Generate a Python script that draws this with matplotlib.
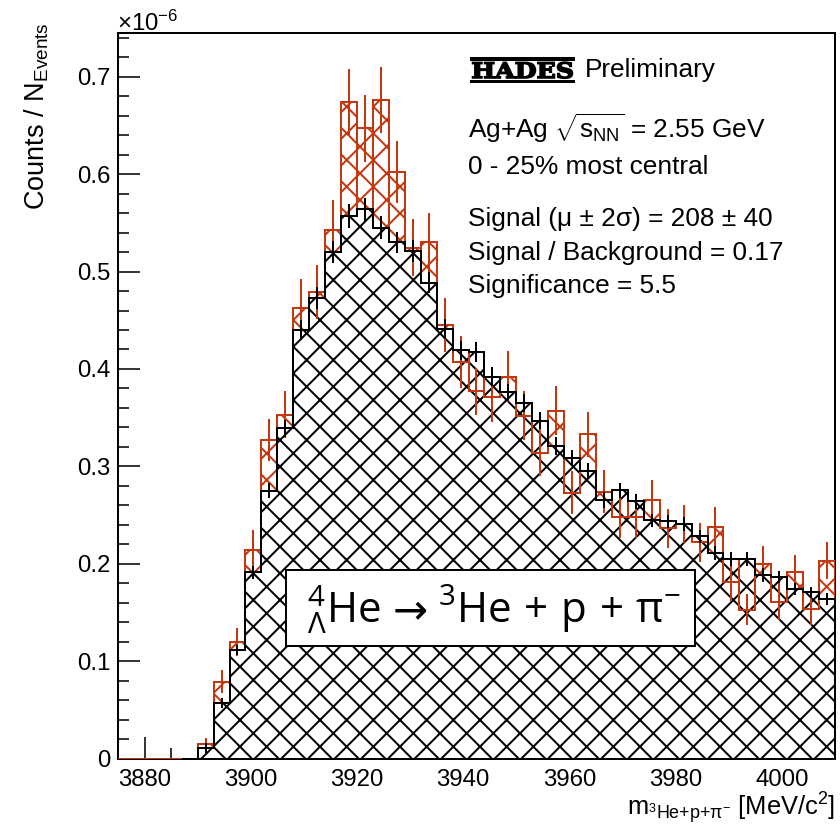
import numpy as np
import matplotlib
matplotlib.use("Agg")
import matplotlib.pyplot as plt
from matplotlib.patches import Rectangle, PathPatch
from matplotlib.textpath import TextPath
from matplotlib.font_manager import FontProperties
from matplotlib.transforms import Affine2D, IdentityTransform
from matplotlib.ticker import MultipleLocator, FuncFormatter

# invariant mass binning, 3 MeV/c2 bins
bin_edges = np.arange(3875, 4011, 3)

# same-event spectrum (red) and mixed-event background (black), in units of 1e-6
same_event = [0.0, 0.0, 0.0, 0.0, 0.0,
              0.0146, 0.079, 0.120, 0.2143, 0.327,
              0.353, 0.463, 0.479, 0.543, 0.674,
              0.647, 0.676, 0.602, 0.5245, 0.530,
              0.445, 0.407, 0.377, 0.371, 0.392,
              0.352, 0.314, 0.357, 0.273, 0.333,
              0.274, 0.2476, 0.2476, 0.2657, 0.2366,
              0.241, 0.222, 0.238, 0.1808, 0.153,
              0.200, 0.161, 0.1914, 0.1533, 0.203]
same_event_err = [0.0, 0.0, 0.0, 0.0, 0.0,
                  0.006, 0.012, 0.0145, 0.020, 0.022,
                  0.024, 0.029, 0.028, 0.031, 0.034,
                  0.034, 0.034, 0.032, 0.029, 0.030,
                  0.028, 0.027, 0.024, 0.0257, 0.026,
                  0.025, 0.024, 0.025, 0.022, 0.023,
                  0.022, 0.021, 0.021, 0.020, 0.020,
                  0.0195, 0.020, 0.0206, 0.019, 0.0155,
                  0.018, 0.019, 0.018, 0.0165, 0.019]
mixed_event = [0.0, 0.0, 0.0, 0.0, 0.0,
               0.0105, 0.0567, 0.1115, 0.191, 0.275,
               0.339, 0.440, 0.473, 0.520, 0.557,
               0.564, 0.545, 0.530, 0.521, 0.4885,
               0.441, 0.419, 0.4175, 0.392, 0.376,
               0.365, 0.347, 0.321, 0.3086, 0.295,
               0.2657, 0.2753, 0.264, 0.2445, 0.2435,
               0.241, 0.228, 0.211, 0.2047, 0.2047,
               0.1886, 0.1863, 0.174, 0.1705, 0.1636]
mixed_event_err = [0.0, 0.0, 0.0, 0.0, 0.0,
                   0.002, 0.004, 0.005, 0.007, 0.008,
                   0.009, 0.010, 0.011, 0.011, 0.012,
                   0.012, 0.012, 0.011, 0.011, 0.011,
                   0.010, 0.010, 0.010, 0.010, 0.009,
                   0.009, 0.009, 0.009, 0.008, 0.008,
                   0.008, 0.008, 0.008, 0.007, 0.007,
                   0.007, 0.007, 0.007, 0.007, 0.007,
                   0.007, 0.006, 0.006, 0.006, 0.006]

info_lines = [r"Ag+Ag $\sqrt{s_{\mathrm{NN}}}$ = 2.55 GeV",
              "0 - 25% most central",
              "Signal (μ ± 2σ) = 208 ± 40",
              "Signal / Background = 0.17",
              "Significance = 5.5"]
info_baselines = [138, 174, 226, 260, 293]

W, H, DPI = 840, 825, 160
RED = "#c4380f"
FS_TICK = 10.8
FS_TEXT = 11.8

plt.rcParams["font.family"] = ["Liberation Sans", "DejaVu Sans"]
plt.rcParams["mathtext.fontset"] = "custom"
plt.rcParams["mathtext.rm"] = "Liberation Sans"
plt.rcParams["mathtext.it"] = "Liberation Sans:italic"
plt.rcParams["mathtext.bf"] = "Liberation Sans:bold"
plt.rcParams["mathtext.sf"] = "Open Sans"
plt.rcParams["mathtext.default"] = "regular"
plt.rcParams["hatch.linewidth"] = 0.9


def px(x, y):
    # pixel position (from top-left) -> figure fraction
    return x / W, 1 - y / H


fig = plt.figure(figsize=(W / DPI, H / DPI), dpi=DPI)
ax = fig.add_axes([118 / W, 1 - 758.5 / H, 717 / W, 725.5 / H])

same = np.array(same_event)
mixed = np.array(mixed_event)
centers = 0.5 * (bin_edges[:-1] + bin_edges[1:])
width = np.diff(bin_edges)

# hatched areas: signal excess in red, background in black on top
ax.stairs(same, bin_edges, fill=True, facecolor="none", edgecolor=RED,
          hatch="xx", linewidth=0, zorder=1)
ax.stairs(mixed, bin_edges, fill=True, facecolor="white", edgecolor="black",
          hatch="xx", linewidth=0, zorder=2)

# red boxes between background and same-event
ax.bar(centers, np.abs(same - mixed), bottom=np.minimum(same, mixed), width=width,
       fill=False, edgecolor=RED, linewidth=0.9, zorder=3)
ax.stairs(same, bin_edges, color=RED, linewidth=0.9, zorder=3)
ax.stairs(mixed[4:], bin_edges[4:], color="black", linewidth=0.9, zorder=4)

has_same = same > 0
ax.errorbar(centers[has_same], same[has_same], yerr=np.array(same_event_err)[has_same],
            fmt="none", ecolor=RED, elinewidth=0.9, capsize=0, zorder=5)
has_mixed = mixed > 0
ax.errorbar(centers[has_mixed], mixed[has_mixed], yerr=np.array(mixed_event_err)[has_mixed],
            fmt="+", color="black", markersize=4.6, markeredgewidth=0.9,
            elinewidth=0.9, capsize=0, zorder=6)

ax.set_xlim(3875, 4010)
ax.set_ylim(0, 0.745)
ax.xaxis.set_major_locator(MultipleLocator(20))
ax.xaxis.set_minor_locator(MultipleLocator(5))
ax.yaxis.set_major_locator(MultipleLocator(0.1))
ax.yaxis.set_minor_locator(MultipleLocator(0.02))
ax.yaxis.set_major_formatter(FuncFormatter(lambda v, p: "0" if abs(v) < 1e-9 else f"{v:.1f}"))
ax.tick_params(which="both", direction="in", top=False, right=False, width=0.7,
               labelsize=FS_TICK)
ax.tick_params(which="major", length=9.9)
ax.tick_params(which="minor", length=5)
ax.tick_params(axis="x", pad=4.6)
ax.tick_params(axis="y", pad=3.4)
for s in ax.spines.values():
    s.set_linewidth(0.9)

fig.text(*px(117, 31), "×10$^{-6}$", fontsize=FS_TICK, ha="left", va="baseline")
fig.text(*px(37, 22), r"Counts / N$_{\mathrm{Events}}$", fontsize=12.2,
         rotation=90, ha="center", va="top")
fig.text(*px(835, 815), r"m$_{{}^{3}\mathrm{He{+}p{+}}\pi^{-}}$ [MeV/c$^{2}$]",
         fontsize=11.5, ha="right", va="baseline")

# HADES logo: bold letters squeezed between two bars
for y0, y1 in [(57.3, 60.7), (80.0, 83.3)]:
    fig.add_artist(Rectangle(px(470, y1), 105 / W, (y1 - y0) / H,
                             transform=fig.transFigure, facecolor="black",
                             edgecolor="none", zorder=10))
logo = TextPath((0, 0), "HADES", size=1,
                prop=FontProperties(family="DejaVu Serif", weight="bold"))
lb = logo.get_extents()
to_px = (Affine2D().translate(-lb.x0, -lb.y0)
         .scale(100 / lb.width, 16.2 / lb.height)
         .translate(472.5, H - 78.3))
fig.add_artist(PathPatch(to_px.transform_path(logo), transform=IdentityTransform(),
                         facecolor="black", edgecolor="black", linewidth=0.7,
                         zorder=11))
fig.text(*px(585, 77), "Preliminary", fontsize=FS_TEXT, ha="left", va="baseline")

for line, yb in zip(info_lines, info_baselines):
    fig.text(*px(468.5, yb), line, fontsize=FS_TEXT, ha="left", va="baseline")

# decay channel box
fig.add_artist(Rectangle(px(286, 646), 409 / W, 76 / H, transform=fig.transFigure,
                         facecolor="white", edgecolor="black", linewidth=0.9,
                         zorder=10))
fig.text(*px(381, 623), r"$\mathsf{{}^{4}_{\Lambda}He}$", fontsize=18.9,
         ha="right", va="baseline", zorder=11)
fig.text(*px(410, 623), "→", family="DejaVu Sans", fontsize=18.9,
         ha="center", va="baseline", zorder=11)
fig.text(*px(438, 623), r"$\mathsf{{}^{3}He\,+\,p\,+\,\pi^{-}}$", fontsize=18.9,
         ha="left", va="baseline", zorder=11)

fig.savefig("out.png", dpi=DPI)
